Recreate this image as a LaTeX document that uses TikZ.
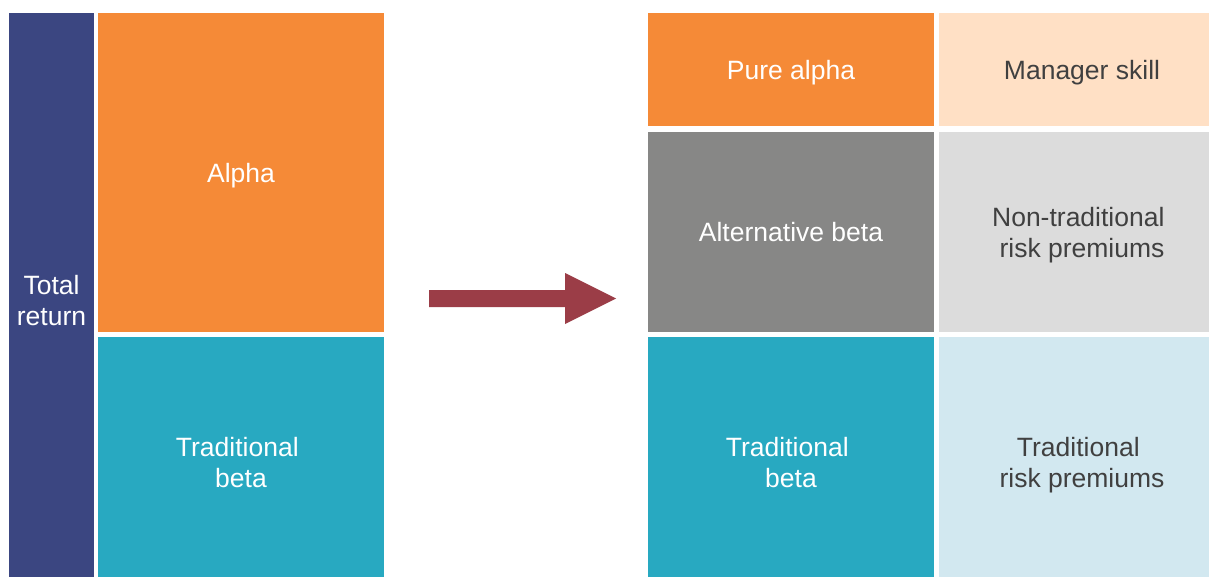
\documentclass[tikz,border=0pt]{standalone}
\usepackage{fontspec}
\setmainfont{Liberation Sans}
\definecolor{navy}{HTML}{3B4681}
\definecolor{orng}{HTML}{F58A37}
\definecolor{teal}{HTML}{28A9C1}
\definecolor{grey}{HTML}{878786}
\definecolor{peach}{HTML}{FFE0C5}
\definecolor{lgrey}{HTML}{DCDCDC}
\definecolor{lblue}{HTML}{D2E8F0}
\definecolor{wine}{HTML}{9B3D47}
\definecolor{txt}{HTML}{404040}
\newcommand\lstrut{\rule[-5pt]{0pt}{30pt}}
\newcommand\tsp{\hspace*{7.4pt}}
\begin{document}
\begin{tikzpicture}
[x=1pt,y=-1pt,every node/.style={rectangle, draw=none, inner sep=0pt, outer sep=0pt, align=center, font=\fontsize{26.5}{31}\selectfont},
 dark/.style={text=white}, light/.style={text=txt}]
\def \w {286pt} % column width
\useasboundingbox (0,0) rectangle (1209,577);
% left side
\node[dark, fill=navy, minimum width=85pt, minimum height=574pt] (total) at (51.5,300) {\lstrut Total\\\lstrut return};
\node[dark, fill=orng, minimum width=\w, minimum height=319pt] (alpha) at (241,172.5) {\lstrut Alpha};
\node[dark, fill=teal, minimum width=\w, minimum height=250pt] (tbeta) at (241,462) {\lstrut Traditional\tsp\\\lstrut beta};
% arrow
\fill[wine] (429,290) -- (565,290) -- (565,273) -- (616,298.5) -- (565,324) -- (565,307) -- (429,307) -- cycle;
% right side
\node[dark, fill=orng, minimum width=\w, minimum height=113pt] (pure) at (791,69.5) {\lstrut Pure alpha};
\node[dark, fill=grey, minimum width=\w, minimum height=200pt] (alt) at (791,232) {\lstrut Alternative beta};
\node[dark, fill=teal, minimum width=\w, minimum height=250pt] (tbeta2) at (791,462) {\lstrut Traditional\tsp\\\lstrut beta};
\node[light, fill=peach, minimum width=\w, minimum height=113pt] (skill) at (1082,69.5) {\lstrut Manager skill};
\node[light, fill=lgrey, minimum width=\w, minimum height=200pt] (ntrp) at (1082,232) {\lstrut Non-traditional\tsp\\\lstrut risk premiums};
\node[light, fill=lblue, minimum width=\w, minimum height=250pt] (trp) at (1082,462) {\lstrut Traditional\tsp\\\lstrut risk premiums};
\end{tikzpicture}
\end{document}
